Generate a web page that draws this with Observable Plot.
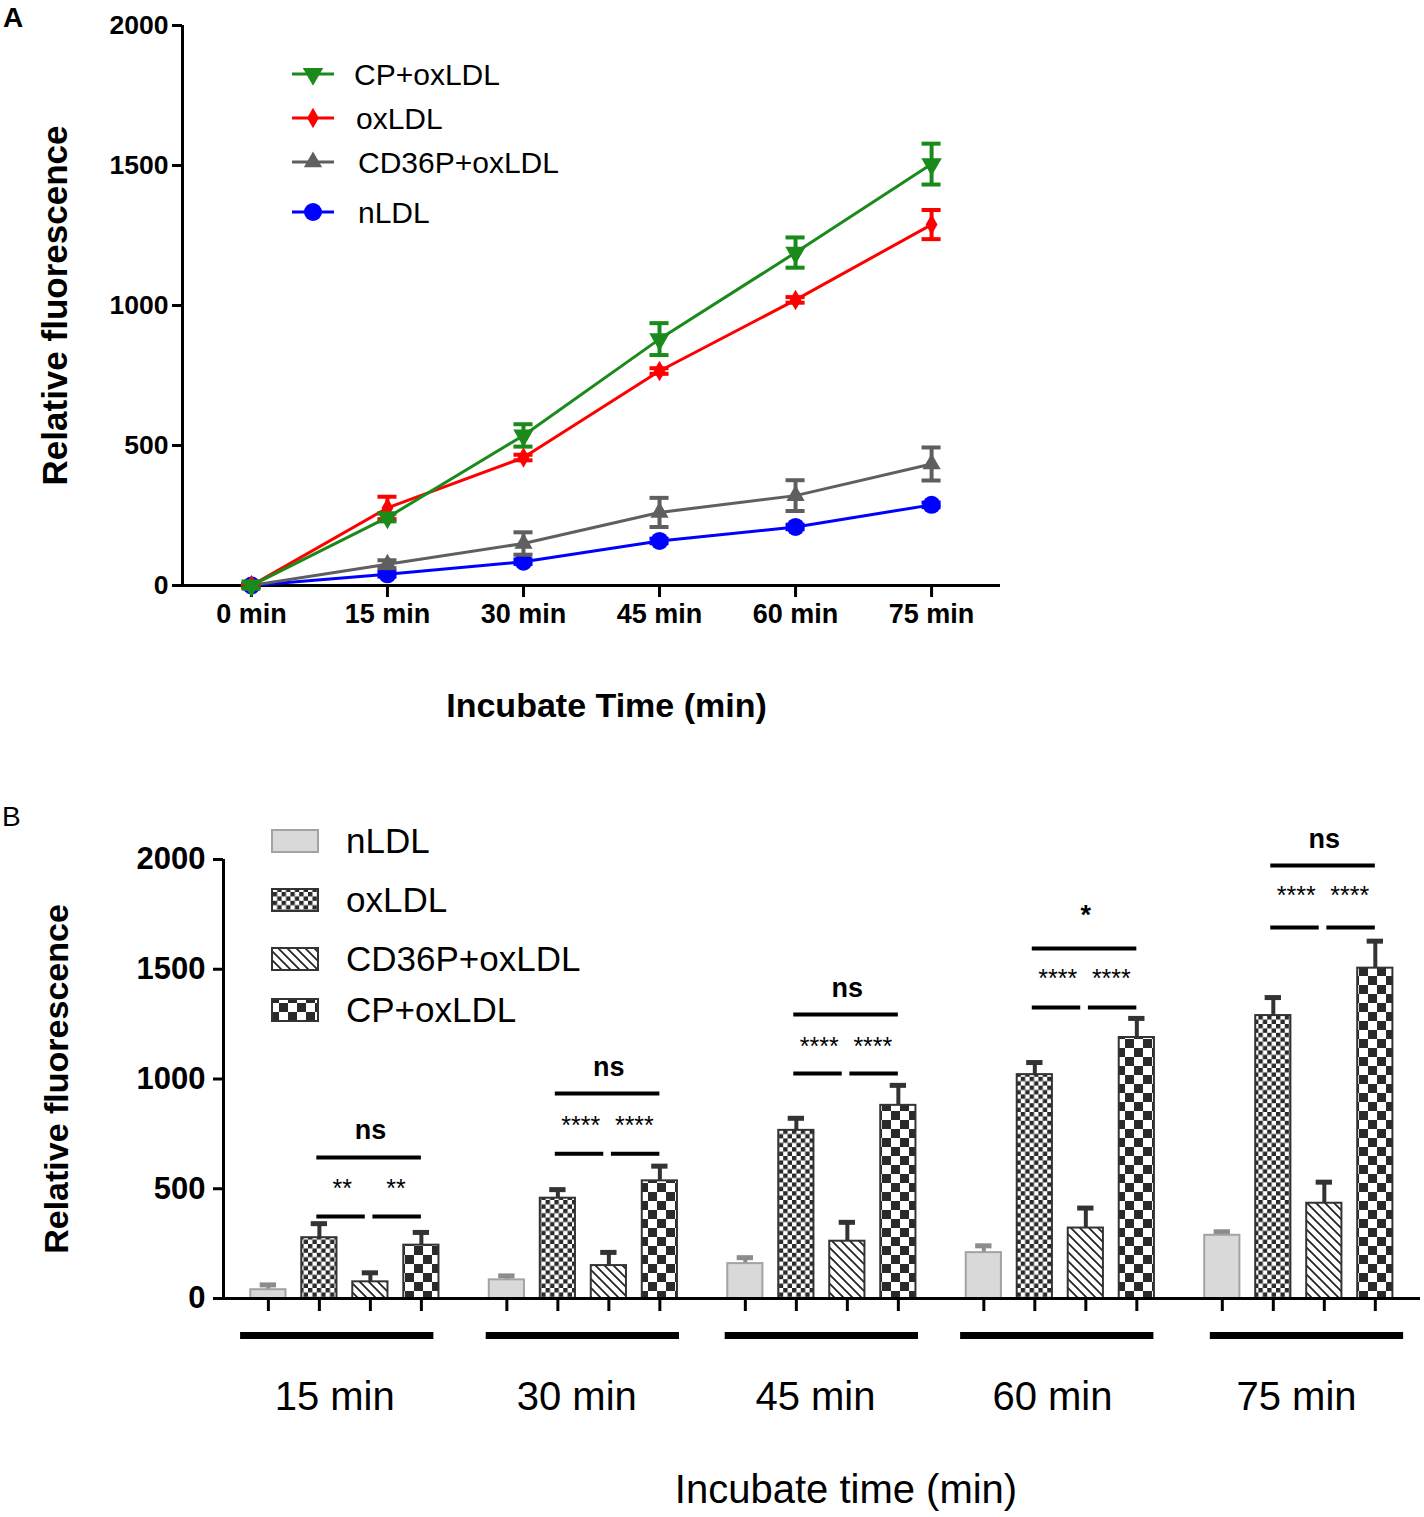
<!DOCTYPE html>
<html>
<head>
<meta charset="utf-8">
<script src="https://cdn.jsdelivr.net/npm/d3@7"></script>
<script src="https://cdn.jsdelivr.net/npm/@observablehq/plot@0.6"></script>
<style>
  html, body { margin: 0; padding: 0; background: #fff; }
  #wrap { position: relative; width: 1424px; height: 1517px; font-family: "Liberation Sans", Arial, sans-serif; }
  #panelA { position: absolute; left: 0; top: 0; }
  #panelB { position: absolute; left: 0; top: 760px; }
  svg { overflow: visible; }
</style>
</head>
<body>
<svg width="0" height="0" style="position:absolute">
  <defs>
    <pattern id="pOx" patternUnits="userSpaceOnUse" width="8.8" height="8.8">
      <rect width="8.8" height="8.8" fill="#fff"/>
      <rect x="0" y="0" width="4.4" height="4.4" fill="#2a2a2a"/>
      <rect x="4.4" y="4.4" width="4.4" height="4.4" fill="#2a2a2a"/>
    </pattern>
    <pattern id="pCd" patternUnits="userSpaceOnUse" width="9" height="9">
      <rect width="9" height="9" fill="#fff"/>
      <path d="M-2,-2 L11,11 M-2,7 L2,11 M7,-2 L11,2" stroke="#222" stroke-width="1.7"/>
    </pattern>
    <pattern id="pCp" patternUnits="userSpaceOnUse" width="18" height="18">
      <rect width="18" height="18" fill="#fff"/>
      <rect x="0" y="0" width="9" height="9" fill="#2a2a2a"/>
      <rect x="9" y="9" width="9" height="9" fill="#2a2a2a"/>
    </pattern>
  </defs>
</svg>
<div id="wrap">
  <div id="panelA"></div>
  <div id="panelB"></div>
</div>
<script>
// ---------------- DATA ----------------
const times = [0, 15, 30, 45, 60, 75];
const seriesA = ["CP+oxLDL", "oxLDL", "CD36P+oxLDL", "nLDL"];
const colorsA = ["#1a8a1a", "#ff0000", "#5f5f5f", "#0000ff"];

// mean values (same measurements in both panels)
const cpMean   = [0, 243, 536, 880, 1189, 1505];
const oxMean   = [0, 277, 457, 766, 1020, 1289];
const cd36Mean = [0, 76, 150, 261, 321, 434];
const nMean    = [0, 40, 85, 159, 209, 288];

// panel A error bars (half-length)
const cpErrA   = [10, 14, 40, 57, 54, 73];
const oxErrA   = [6, 40, 10, 10, 10, 52];
const cd36ErrA = [6, 14, 40, 52, 55, 59];
const nErrA    = [4, 8, 8, 8, 8, 8];

// panel B error bars (upper whisker only), for 15..75 min
const seriesB = ["nLDL", "oxLDL", "CD36P+oxLDL", "CP+oxLDL"];
const nErrB    = [22, 18, 27, 31, 16];
const oxErrB   = [64, 39, 55, 55, 82];
const cd36ErrB = [41, 60, 86, 91, 96];
const cpErrB   = [58, 67, 91, 87, 123];
const groupLabelsB = ["15 min", "30 min", "45 min", "60 min", "75 min"];
const underlineShift = [0, 0.14, 0.15, 0.09, 0.31];

// significance annotations (y levels in data units)
const pairStars   = ["**", "****", "****", "****", "****"];
const topLabels   = ["ns", "ns", "ns", "*", "ns"];
const shortLineY  = [374, 660, 1025, 1326, 1690];
const starsY      = [528, 815, 1175, 1481, 1859];
const longLineY   = [642, 934, 1294, 1595, 1973];
const topLabelY   = [765, 1052, 1412, 1745, 2091];

const FONT = "Liberation Sans, Arial, Helvetica, sans-serif";

// ---------------- PANEL A ----------------
const meansA = [cpMean, oxMean, cd36Mean, nMean];
const errsA = [cpErrA, oxErrA, cd36ErrA, nErrA];
const dataA = [];
seriesA.forEach((s, i) => times.forEach((t, j) => dataA.push({series: s, time: t, value: meansA[i][j], err: errsA[i][j]})));

const xDomA = [-7.6, 82.6];
const drawOrder = ["nLDL", "CD36P+oxLDL", "oxLDL", "CP+oxLDL"];
const symbolOf = {"CP+oxLDL": "triangle", "oxLDL": "diamond", "CD36P+oxLDL": "triangle", "nLDL": "circle"};
const rOf = {"CP+oxLDL": 7.6, "oxLDL": 6.2, "CD36P+oxLDL": 6.8, "nLDL": 9};
const rotOf = {"CP+oxLDL": 180, "oxLDL": 0, "CD36P+oxLDL": 0, "nLDL": 0};
const colOf = Object.fromEntries(seriesA.map((s, i) => [s, colorsA[i]]));

const marksA = [
  Plot.ruleY([0], {stroke: "#000", strokeWidth: 3}),
  Plot.ruleX([xDomA[0]], {y1: 0, y2: 2000, stroke: "#000", strokeWidth: 3}),
  Plot.axisY({ticks: [0, 500, 1000, 1500, 2000], tickFormat: d => String(d), tickSize: 10, tickPadding: 4,
              fontSize: 26.5, fontWeight: "bold", strokeWidth: 3, label: null}),
  Plot.axisX({ticks: times, tickFormat: d => d + " min", tickSize: 12, tickPadding: 6,
              fontSize: 27, fontWeight: "bold", strokeWidth: 3, label: null}),
  Plot.text(["Relative fluorescence"], {frameAnchor: "left", textAnchor: "middle", lineAnchor: "middle", dx: -127, rotate: -90, fontSize: 35, fontWeight: "bold", fill: "#000"}),
  Plot.text(["Incubate Time (min)"], {frameAnchor: "bottom", textAnchor: "middle", lineAnchor: "middle", dx: 15, dy: 121, fontSize: 34, fontWeight: "bold", fill: "#000"})
];
for (const s of drawOrder) {
  const d = dataA.filter(r => r.series === s);
  marksA.push(
    Plot.line(d, {x: "time", y: "value", stroke: colOf[s], strokeWidth: 3}),
    Plot.ruleX(d, {x: "time", y1: r => r.value - r.err, y2: r => r.value + r.err, stroke: colOf[s], strokeWidth: 4}),
    Plot.ruleY(d, {y: r => r.value - r.err, x1: r => r.time - 1.05, x2: r => r.time + 1.05, stroke: colOf[s], strokeWidth: 4}),
    Plot.ruleY(d, {y: r => r.value + r.err, x1: r => r.time - 1.05, x2: r => r.time + 1.05, stroke: colOf[s], strokeWidth: 4}),
    Plot.dot(d, {x: "time", y: "value", symbol: symbolOf[s], r: rOf[s], rotate: rotOf[s], fill: colOf[s], stroke: "none"})
  );
}

const plotA = Plot.plot({
  width: 1424, height: 740,
  marginLeft: 182, marginRight: 424, marginTop: 25, marginBottom: 155,
  x: {domain: xDomA},
  y: {domain: [0, 2000]},
  style: {fontFamily: FONT, color: "#000", background: "transparent"},
  marks: marksA
});
document.getElementById("panelA").appendChild(plotA);

// legend + panel letter for A
{
  const svg = d3.select(plotA);
  svg.append("text").attr("x", 3).attr("y", 27).attr("text-anchor", "start").attr("font-size", 28).attr("font-weight", "bold")
     .attr("font-family", FONT).text("A");
  const legY = [74, 118, 162, 212];
  const legX = [354, 356, 358, 358];
  const g = svg.append("g").attr("text-anchor", "start");
  seriesA.forEach((s, i) => {
    const y = legY[i];
    g.append("line").attr("x1", 292).attr("x2", 334).attr("y1", y).attr("y2", y)
      .attr("stroke", colOf[s]).attr("stroke-width", 3);
    const sym = s === "nLDL" ? d3.symbolCircle : s === "oxLDL" ? d3.symbolDiamond : d3.symbolTriangle;
    const size = Math.PI * rOf[s] * rOf[s];
    g.append("path").attr("d", d3.symbol(sym, size)())
      .attr("transform", `translate(313,${y}) rotate(${rotOf[s]})`).attr("fill", colOf[s]);
    g.append("text").attr("x", legX[i]).attr("y", y).attr("dy", "0.35em").attr("text-anchor", "start")
      .attr("font-size", 30).attr("font-family", FONT).text(s);
  });
}

// ---------------- PANEL B ----------------
const groupStep = 4.676;
const xB = (g, s) => g * groupStep + s;
const meansB = {"nLDL": nMean, "oxLDL": oxMean, "CD36P+oxLDL": cd36Mean, "CP+oxLDL": cpMean};
const errsB = {"nLDL": nErrB, "oxLDL": oxErrB, "CD36P+oxLDL": cd36ErrB, "CP+oxLDL": cpErrB};
const fillB = {"nLDL": "#d9d9d9", "oxLDL": "url(#pOx)", "CD36P+oxLDL": "url(#pCd)", "CP+oxLDL": "url(#pCp)"};
const strokeB = {"nLDL": "#a3a3a3", "oxLDL": "#333", "CD36P+oxLDL": "#333", "CP+oxLDL": "#333"};
const errColB = {"nLDL": "#8c8c8c", "oxLDL": "#333", "CD36P+oxLDL": "#333", "CP+oxLDL": "#333"};

const barsB = [];
groupLabelsB.forEach((lab, g) => seriesB.forEach((s, k) => barsB.push({
  g, series: s, time: lab, x: xB(g, k), value: meansB[s][g + 1], err: errsB[s][g]
})));
const groupsB = groupLabelsB.map((lab, g) => ({g, label: lab}));
const hw = 0.345;
const xDomB = [-0.88, 22.59];

const marksB = [
  Plot.axisY({ticks: [0, 500, 1000, 1500, 2000], tickFormat: d => String(d), tickSize: 10, tickPadding: 8,
              fontSize: 31, fontWeight: "bold", strokeWidth: 3, label: null}),
  Plot.axisX({ticks: barsB.map(d => d.x), tickFormat: () => "", tickSize: 13, strokeWidth: 3, label: null})
];
for (const s of seriesB) {
  const d = barsB.filter(r => r.series === s);
  marksB.push(
    Plot.ruleX(d, {x: "x", y1: "value", y2: r => r.value + r.err, stroke: errColB[s], strokeWidth: 4}),
    Plot.ruleY(d, {y: r => r.value + r.err, x1: r => r.x - 0.16, x2: r => r.x + 0.16, stroke: errColB[s], strokeWidth: 5}),
    Plot.rect(d, {x1: r => r.x - hw, x2: r => r.x + hw, y1: 0, y2: "value", fill: fillB[s], stroke: strokeB[s], strokeWidth: 2})
  );
}
marksB.push(
  Plot.ruleY([0], {stroke: "#000", strokeWidth: 3}),
  Plot.ruleX([xDomB[0]], {y1: 0, y2: 2000, stroke: "#000", strokeWidth: 3}),
  // significance lines
  Plot.ruleY(groupsB, {y: d => longLineY[d.g], x1: d => xB(d.g, 1) - 0.05, x2: d => xB(d.g, 3), stroke: "#000", strokeWidth: 4}),
  Plot.ruleY(groupsB, {y: d => shortLineY[d.g], x1: d => xB(d.g, 1) - 0.05, x2: d => xB(d.g, 2) - 0.1, stroke: "#000", strokeWidth: 4}),
  Plot.ruleY(groupsB, {y: d => shortLineY[d.g], x1: d => xB(d.g, 2) + 0.05, x2: d => xB(d.g, 3), stroke: "#000", strokeWidth: 4}),
  Plot.text(groupsB, {x: d => xB(d.g, 1.45), y: d => starsY[d.g], text: d => pairStars[d.g], dy: 6, fontSize: 25, fill: "#000"}),
  Plot.text(groupsB, {x: d => xB(d.g, 2.5), y: d => starsY[d.g], text: d => pairStars[d.g], dy: 6, fontSize: 25, fill: "#000"}),
  Plot.text(groupsB, {x: d => xB(d.g, 2), y: d => topLabelY[d.g], text: d => topLabels[d.g], fontSize: 27, fontWeight: "bold", fill: "#000"}),
  // group underline and labels
  Plot.ruleY(groupsB, {y: 0, x1: d => xB(d.g, 0) - hw - 0.2 + underlineShift[d.g], x2: d => xB(d.g, 3) + hw - 0.1 + underlineShift[d.g], dy: 37, stroke: "#000", strokeWidth: 7}),
  Plot.text(groupsB, {x: d => xB(d.g, 1.3) + underlineShift[d.g] * 0.5, frameAnchor: "bottom", textAnchor: "middle", lineAnchor: "middle", dy: 99, text: "label", fontSize: 40, fill: "#000"}),
  Plot.text(["Incubate time (min)"], {frameAnchor: "bottom", textAnchor: "middle", lineAnchor: "middle", dx: 24, dy: 192, fontSize: 40, fill: "#000"}),
  Plot.text(["Relative fluorescence"], {frameAnchor: "left", textAnchor: "middle", lineAnchor: "middle", dx: -166, rotate: -90, fontSize: 34, fontWeight: "bold", fill: "#000"})
);

const plotB = Plot.plot({
  width: 1424, height: 757,
  marginLeft: 223, marginRight: 4, marginTop: 99, marginBottom: 219,
  x: {domain: xDomB},
  y: {domain: [0, 2000]},
  style: {fontFamily: FONT, color: "#000", background: "transparent"},
  marks: marksB
});
document.getElementById("panelB").appendChild(plotB);

{
  const svg = d3.select(plotB);
  svg.append("text").attr("x", 2).attr("y", 66).attr("text-anchor", "start").attr("font-size", 28)
     .attr("font-family", FONT).text("B");
  const legY = [81, 140, 199, 250];
  const order = ["nLDL", "oxLDL", "CD36P+oxLDL", "CP+oxLDL"];
  order.forEach((s, i) => {
    const y = legY[i];
    svg.append("rect").attr("x", 272).attr("y", y - 11).attr("width", 46).attr("height", 22)
      .attr("fill", fillB[s]).attr("stroke", strokeB[s]).attr("stroke-width", 2);
    svg.append("text").attr("x", 346).attr("y", y).attr("dy", "0.35em").attr("text-anchor", "start")
      .attr("font-size", 35).attr("font-family", FONT).text(s);
  });
}
</script>
</body>
</html>
